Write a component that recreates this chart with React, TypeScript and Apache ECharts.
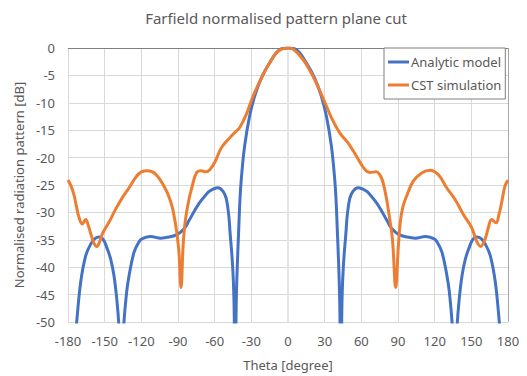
import React, { useEffect, useRef } from "react";
import * as echarts from "echarts";

const xTicks = [-180, -150, -120, -90, -60, -30, 0, 30, 60, 90, 120, 150, 180];
const yTicks = [0, -5, -10, -15, -20, -25, -30, -35, -40, -45, -50];

const analyticTheta = [
  -178, -172.9, -169.6, -165.5, -161.5, -158, -154.6, -151, -147.8, -145, -142.4, -140, -138.3, -136.4,
  -134.5, -132, -130, -126, -122, -119.2, -112.4, -104.2, -97.4, -90.5, -85, -81, -76, -72.3,
  -68, -64.1, -57.3, -53, -50.5, -48.5, -47.4, -45.3, -44.2, -43.3, -42.3, -41.5, -40.3, -39.3, -38.2, -35.5, -31.4, -27.3, -21.8,
  -15, -6.8, 0, 6.8, 15, 21.8, 27.3, 31.4, 35.5, 38.2, 39.3, 40.3, 41.5, 42.3, 43.3, 44.2, 45.3, 47.4, 48.5, 50.5, 53, 57.3, 64.1,
  68, 72.3, 76, 81, 85, 90.5, 97.4, 104.2, 112.4, 119.2, 122, 126, 130, 132, 134.5, 136.4, 138.3,
  140, 142.4, 145, 147.8, 151, 154.6, 158, 161.5, 165.5, 169.6, 172.9, 178,
];
const analyticDb = [
  -62, -50, -42.7, -37.9, -35.8, -34.8, -34.5, -35.0, -36.7, -38.6, -41.5, -46, -51, -62,
  -51, -44.5, -41.5, -37.3, -35.4, -34.8, -34.4, -34.7, -34.5, -34.0, -33, -31.5, -29.5, -28.2,
  -27, -26.1, -25.5, -26.2, -27.5, -30.5, -33.7, -39.8, -46, -62, -46, -39.8, -33, -27.6, -23.9, -17.9, -12.4, -8.8, -5.5,
  -2.7, -0.3, 0, -0.3, -2.7, -5.5, -8.8, -12.4, -17.9, -23.9, -27.6, -33, -39.8, -46, -62, -46, -39.8, -33.7, -30.5, -27.5, -26.2, -25.5, -26.1,
  -27, -28.2, -29.5, -31.5, -33, -34.0, -34.5, -34.7, -34.4, -34.8, -35.4, -37.3, -41.5, -44.5, -51, -62, -51,
  -46, -41.5, -38.6, -36.7, -35.0, -34.5, -34.8, -35.8, -37.9, -42.7, -50, -62,
];

const cstTheta = [
  -180, -177.5, -175.1, -173, -171, -168.3, -165.5, -163.5, -161.5, -159, -156.5, -154, -151.9, -146.5,
  -141, -135.5, -130, -124.6, -120, -115, -108.3, -101.5, -96, -92.5, -89.5, -87.5, -85.8, -84, -81, -79,
  -75, -71, -67, -64, -60, -54.5, -47.7, -43, -39.5, -34.1, -28.6, -21.8, -15, -8.2, 0,
  4.1, 12.3, 20.5, 28.6, 35.5, 42.3, 49.1, 55.9, 62.7, 66.8, 72.3, 75.3, 77.7, 80.7, 83.2, 85.5, 88.1,
  90.2, 91.8, 94, 97.1, 102.5, 109.4, 116.2, 122.9, 129.8, 136.6, 143.5, 150.3, 154.4, 157.6, 161.2,
  163.9, 166.6, 170.2, 172.5, 174.8, 177.5, 180,
];
const cstDb = [
  -24.1, -25.2, -26.8, -29, -30.9, -32.1, -31.3, -32.3, -33.8, -35.5, -36.2, -35.3, -33.9, -31.8,
  -29.4, -27.3, -25.5, -23.6, -22.6, -22.4, -23, -25.2, -28, -31.5, -36.5, -43.7, -36, -31.5, -27.6, -25.8,
  -22.8, -22.4, -22.6, -22.2, -20.9, -18.2, -16.4, -15.3, -14.5, -12.1, -8.8, -5.5, -2.7, -0.6, 0,
  -0.2, -2.1, -5.2, -9.1, -12.7, -15.5, -17.3, -19.7, -22.1, -22.7, -22.6, -23.2, -24.5, -27.6, -31.2, -35, -43.7,
  -36.5, -31.9, -29, -27, -24.3, -22.8, -22.3, -23.1, -25.5, -27.6, -30.4, -32.8, -35.3, -36.2, -34.9,
  -32.8, -31.3, -31.9, -30.5, -28.2, -25.2, -24.1,
];

const seriesNames = ["Analytic model", "CST simulation"];

const pair = (xs: number[], ys: number[]) => xs.map((x, i) => [x, ys[i]]);

const FONT = "'Noto Sans', sans-serif";
const GRID = "#D9D9D9";

export default function App() {
  const ref = useRef<HTMLDivElement>(null);
  useEffect(() => {
    document.body.style.margin = "0";
    const chart = echarts.init(ref.current!, null, { renderer: "svg" });
    chart.setOption({
      animation: false,
      backgroundColor: "#ffffff",
      textStyle: { fontFamily: FONT },
      title: {
        text: "Farfield normalised pattern plane cut",
        left: 271,
        top: 5,
        textAlign: "center",
        textStyle: { fontFamily: FONT, fontSize: 15, fontWeight: "normal", color: "#595959" },
      },
      legend: {
        orient: "vertical",
        left: 384,
        top: 48,
        padding: [6, 4, 6, 4],
        itemGap: 7,
        itemWidth: 21,
        itemHeight: 3,
        itemStyle: { borderWidth: 0 },
        borderColor: "#7F7F7F",
        borderWidth: 1,
        backgroundColor: "#ffffff",
        textStyle: { fontFamily: FONT, fontSize: 13, color: "#595959", lineHeight: 16, padding: [0, 0, 0, -3] },
        data: seriesNames.map((n) => ({ name: n, icon: "rect" })),
      },
      grid: { left: 68, right: 19, top: 48, bottom: 53 },
      xAxis: {
        type: "value",
        min: -180,
        max: 180,
        interval: 30,
        name: "Theta [degree]",
        nameLocation: "middle",
        nameGap: 36,
        nameTextStyle: { fontFamily: FONT, fontSize: 13, color: "#595959" },
        axisLine: { show: false, onZero: false },
        axisTick: { show: false },
        axisLabel: {
          margin: 12,
          fontFamily: FONT,
          fontSize: 13,
          color: "#595959",
          formatter: (v: number) => (xTicks.includes(v) ? String(v) : ""),
        },
        splitLine: { show: false },
      },
      yAxis: {
        type: "value",
        min: -50,
        max: 0,
        interval: 5,
        name: "Normalised radiation pattern [dB]",
        nameLocation: "middle",
        nameGap: 40,
        nameTextStyle: { fontFamily: FONT, fontSize: 13, color: "#595959" },
        axisLine: { show: false, onZero: false },
        axisTick: { show: false },
        axisLabel: {
          margin: 13,
          fontFamily: FONT,
          fontSize: 13,
          color: "#595959",
          formatter: (v: number) => (yTicks.includes(v) ? String(v) : ""),
        },
        splitLine: { show: true, lineStyle: { color: GRID, width: 1 } },
      },
      series: [
        {
          name: "grid",
          type: "line",
          data: [],
          z: 1,
          silent: true,
          markLine: {
            silent: true,
            symbol: "none",
            z: 1,
            label: { show: false },
            animation: false,
            data: [
              ...xTicks
                .filter((v) => v !== 0 && v !== 180)
                .map((v) => ({ xAxis: v, lineStyle: { color: GRID, width: 1, type: "solid" } })),
              { xAxis: 180, lineStyle: { color: "#A6A6A6", width: 1, type: "solid" } },
              { yAxis: 0, lineStyle: { color: "#7F7F7F", width: 1, type: "solid" } },
            ],
          },
        },
        {
          name: "grid0",
          type: "line",
          data: [],
          z: 10,
          silent: true,
          markLine: {
            silent: true,
            symbol: "none",
            z: 10,
            label: { show: false },
            animation: false,
            data: [
              [
                { coord: [0, -0.7], lineStyle: { color: "#E4E4E4", width: 2, type: "solid" } },
                { coord: [0, -50] },
              ],
            ],
          },
        },
        {
          name: seriesNames[0],
          type: "line",
          data: pair(analyticTheta, analyticDb),
          smooth: 0.4,
          showSymbol: false,
          symbol: "none",
          clip: true,
          color: "#4472C4",
          lineStyle: { color: "#4472C4", width: 3 },
          z: 2,
        },
        {
          name: seriesNames[1],
          type: "line",
          data: pair(cstTheta, cstDb),
          smooth: 0.4,
          showSymbol: false,
          symbol: "none",
          clip: true,
          color: "#ED7D31",
          lineStyle: { color: "#ED7D31", width: 3 },
          z: 3,
        },
      ],
    });
    return () => chart.dispose();
  }, []);
  return <div ref={ref} style={{ width: 527, height: 376 }} />;
}
